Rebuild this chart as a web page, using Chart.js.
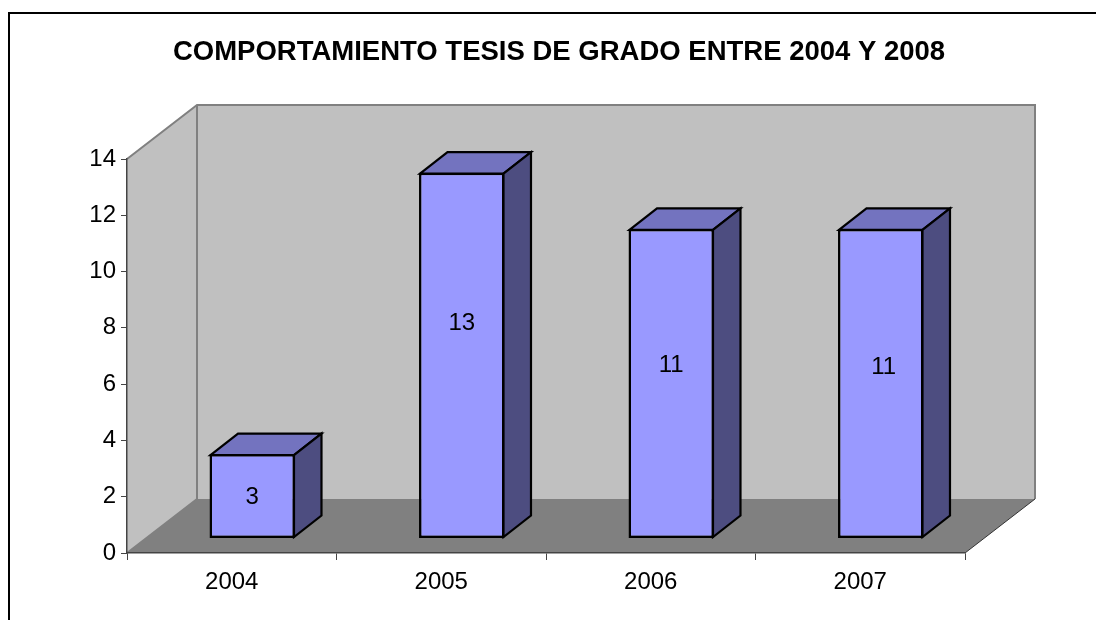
<!DOCTYPE html>
<html>
<head>
<meta charset="utf-8">
<style>html,body{margin:0;padding:0;background:#fff}canvas{display:block}</style>
<script src="https://cdn.jsdelivr.net/npm/chart.js@4"></script>
</head>
<body>
<canvas id="c" width="1096" height="620"></canvas>
<script>
const titleText = 'COMPORTAMIENTO TESIS DE GRADO ENTRE 2004 Y 2008';
const categories = ['2004', '2005', '2006', '2007'];
const tesis = [3, 13, 11, 11];
const yTicks = [0, 2, 4, 6, 8, 10, 12, 14];

const FONT = '"Liberation Sans", Arial, sans-serif';
const scene = {
  wallDx: 70, wallDy: -54,      // back wall offset from the front plane
  barDx: 20.5, barDy: -14.5,    // bars stand inside the box
  depthDx: 27.5, depthDy: -21.5,// bar depth
  labelNudgeY: [0, -33, -19, -17],
  labelNudgeX: [0, 0, 0, 3]
};

function poly(ctx, pts, fill, stroke, lw) {
  ctx.beginPath();
  pts.forEach((p, i) => i ? ctx.lineTo(p[0], p[1]) : ctx.moveTo(p[0], p[1]));
  ctx.closePath();
  if (fill) { ctx.fillStyle = fill; ctx.fill(); }
  if (stroke) { ctx.strokeStyle = stroke; ctx.lineWidth = lw; ctx.lineJoin = 'miter'; ctx.stroke(); }
}

const box3d = {
  id: 'box3d',
  afterLayout(chart) {
    chart.titleBlock.left = 0;
    chart.titleBlock.right = 1118;
  },
  beforeDraw(chart) {
    const { ctx, chartArea: a } = chart;
    const dx = scene.wallDx, dy = scene.wallDy;
    ctx.save();
    // outer frame
    ctx.strokeStyle = '#000';
    ctx.lineWidth = 2;
    ctx.beginPath();
    ctx.moveTo(9, 620); ctx.lineTo(9, 13); ctx.lineTo(1096, 13);
    ctx.stroke();
    // floor
    poly(ctx, [[a.left, a.bottom], [a.left + dx, a.bottom + dy], [a.right + dx, a.bottom + dy], [a.right, a.bottom]], '#808080');
    // left wall
    poly(ctx, [[a.left, a.bottom], [a.left, a.top], [a.left + dx, a.top + dy], [a.left + dx, a.bottom + dy]], '#C0C0C0');
    // back wall
    poly(ctx, [[a.left + dx, a.top + dy], [a.right + dx, a.top + dy], [a.right + dx, a.bottom + dy], [a.left + dx, a.bottom + dy]], '#C0C0C0');
    // wall edges
    ctx.strokeStyle = '#808080';
    ctx.lineWidth = 2;
    ctx.beginPath();
    ctx.moveTo(a.left, a.top);
    ctx.lineTo(a.left + dx, a.top + dy);
    ctx.lineTo(a.right + dx, a.top + dy);
    ctx.lineTo(a.right + dx, a.bottom + dy);
    ctx.moveTo(a.left + dx, a.top + dy);
    ctx.lineTo(a.left + dx, a.bottom + dy);
    ctx.lineTo(a.left, a.bottom);
    ctx.stroke();
    // right floor edge
    ctx.strokeStyle = '#333';
    ctx.lineWidth = 1;
    ctx.beginPath();
    ctx.moveTo(a.right, a.bottom);
    ctx.lineTo(a.right + dx, a.bottom + dy);
    ctx.stroke();
    ctx.restore();
  },
  beforeDatasetDraw(chart) {
    chart.ctx.save();
    chart.ctx.translate(scene.barDx, scene.barDy);
  },
  afterDatasetDraw(chart, args) {
    const ctx = chart.ctx;
    ctx.restore();
    const dx = scene.depthDx, dy = scene.depthDy;
    args.meta.data.forEach((bar) => {
      const x0 = bar.x - bar.width / 2 + scene.barDx + 1;
      const x1 = bar.x + bar.width / 2 + scene.barDx - 1;
      const y0 = bar.y + scene.barDy + 1;
      const y1 = bar.base + scene.barDy - 1;
      poly(ctx, [[x0, y0], [x0 + dx, y0 + dy], [x1 + dx, y0 + dy], [x1, y0]], '#7373BF', '#000', 2.2);
      poly(ctx, [[x1, y0], [x1 + dx, y0 + dy], [x1 + dx, y1 + dy], [x1, y1]], '#4D4D80', '#000', 2.2);
    });
  },
  afterDatasetsDraw(chart) {
    const ctx = chart.ctx;
    ctx.save();
    ctx.font = '24px ' + FONT;
    ctx.fillStyle = '#000';
    ctx.textAlign = 'center';
    ctx.textBaseline = 'middle';
    chart.getDatasetMeta(0).data.forEach((bar, i) => {
      ctx.fillText(String(tesis[i]),
        bar.x + scene.barDx + scene.labelNudgeX[i],
        (bar.y + bar.base) / 2 + scene.barDy + 1 + scene.labelNudgeY[i]);
    });
    ctx.restore();
  }
};

new Chart(document.getElementById('c'), {
  type: 'bar',
  data: {
    labels: categories,
    datasets: [{
      label: 'Tesis de grado',
      data: tesis,
      backgroundColor: '#9999FF',
      borderColor: '#000',
      borderWidth: 2.5,
      borderSkipped: false,
      barPercentage: 0.408,
      categoryPercentage: 1
    }]
  },
  plugins: [box3d],
  options: {
    responsive: false,
    animation: false,
    layout: { padding: { left: 0, right: 131, top: 0, bottom: 0 } },
    plugins: {
      legend: { display: false },
      tooltip: { enabled: false },
      title: {
        display: true,
        text: titleText,
        color: '#000',
        font: { family: FONT, size: 27.5, weight: 'bold', lineHeight: 1.2 },
        padding: { top: 35.5, bottom: 90.5 }
      }
    },
    scales: {
      x: {
        grid: { drawOnChartArea: false, drawTicks: true, tickLength: 7, color: '#444' },
        border: { color: '#444', width: 1.5 },
        ticks: { color: '#000', font: { family: FONT, size: 24 }, padding: 8, maxRotation: 0 },
        afterFit(s) { s.height = 67; }
      },
      y: {
        min: 0,
        max: 14,
        grid: { drawOnChartArea: false, drawTicks: true, tickLength: 6, color: '#444' },
        border: { color: '#444', width: 1.5 },
        afterBuildTicks(s) { s.ticks = yTicks.map(v => ({ value: v })); },
        ticks: { color: '#000', font: { family: FONT, size: 24 }, padding: 5 },
        afterFit(s) { s.width = 127; }
      }
    }
  }
});
</script>
</body>
</html>
